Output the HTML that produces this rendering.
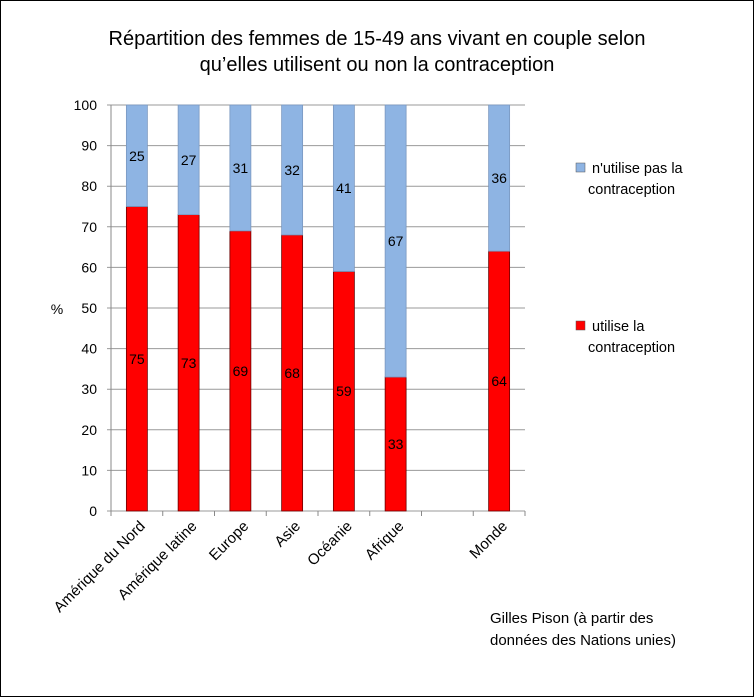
<!DOCTYPE html>
<html><head><meta charset="utf-8"><style>
body{margin:0;background:#fff}
svg{display:block;font-family:"Liberation Sans","DejaVu Sans",sans-serif}
</style></head><body>
<svg id="chart" width="754" height="697" xmlns="http://www.w3.org/2000/svg">
<rect x="0.5" y="0.5" width="753" height="696" fill="#fff" stroke="#000"/>
<text x="377" y="45" font-size="20" text-anchor="middle">Répartition des femmes de 15-49 ans vivant en couple selon</text>
<text x="377" y="71" font-size="20" text-anchor="middle">qu’elles utilisent ou non la contraception</text>
<text x="57" y="314" font-size="14" text-anchor="middle">%</text>
<g id="grid"></g><g id="bars"></g><g id="axes"></g>
<rect x="576" y="163" width="9" height="9" fill="#8eb4e3" stroke="#555" stroke-width="0.5"/>
<text x="592" y="173" font-size="14.5">n'utilise pas la</text>
<text x="588" y="194" font-size="14.5">contraception</text>
<rect x="576" y="321" width="9" height="9" fill="#ff0000" stroke="#555" stroke-width="0.5"/>
<text x="592" y="331" font-size="14.5">utilise la</text>
<text x="588" y="352" font-size="14.5">contraception</text>
<text x="490" y="623" font-size="15">Gilles Pison (à partir des</text>
<text x="490" y="645" font-size="15">données des Nations unies)</text>
</svg>
<script>
const categories=["Amérique du Nord","Amérique latine","Europe","Asie","Océanie","Afrique","","Monde"];
const usingVals=[75,73,69,68,59,33,null,64];
const notUsingVals=[25,27,31,32,41,67,null,36];
const yTicks=[0,10,20,30,40,50,60,70,80,90,100];
const NS="http://www.w3.org/2000/svg";
const X0=111,X1=525,Y0=511,Y1=105;
const slot=(X1-X0)/categories.length;
const y=v=>Y0-(v/100)*(Y0-Y1);
const xc=i=>X0+slot*(i+0.5);
function mk(tag,attrs,parent,txt){const e=document.createElementNS(NS,tag);for(const k in attrs)e.setAttribute(k,attrs[k]);if(txt!=null)e.textContent=txt;parent.appendChild(e);return e;}
const grid=document.getElementById('grid'),bars=document.getElementById('bars'),axes=document.getElementById('axes');
yTicks.forEach(t=>{
 const g=mk('line',{x1:X0-4,x2:X1,y1:y(t),y2:y(t),stroke:'#999','stroke-width':1},grid);
 
 
 const l=mk('text',{x:X0-14,y:y(t)+5,'font-size':14,'text-anchor':'end'},axes,t);
 
 
});
const ya=mk('line',{x1:X0,x2:X0,y1:Y1,y2:Y0,stroke:'#888'},axes);


for(let i=0;i<=categories.length;i++){
 const tk=mk('line',{x1:X0+slot*i,x2:X0+slot*i,y1:Y0,y2:Y0+5,stroke:'#888'},axes);
 
 
}
const bw=21;
categories.forEach((c,i)=>{
 const cx=xc(i);
 if(usingVals[i]!=null){
  const u=usingVals[i],n=notUsingVals[i];
  const rb=mk('rect',{x:cx-bw/2,y:y(u),width:bw,height:Y0-y(u),fill:'#ff0000',stroke:'#6b0000','stroke-width':0.8},bars);
  
  
  const bb=mk('rect',{x:cx-bw/2,y:y(u+n),width:bw,height:y(u)-y(u+n),fill:'#8eb4e3',stroke:'#7a98c0','stroke-width':0.8},bars);
  
  
  const t1=mk('text',{x:cx,y:(y(u)+Y0)/2+5,'font-size':14,'text-anchor':'middle'},bars,u);
  
  
  const t2=mk('text',{x:cx,y:(y(u)+y(u+n))/2+5,'font-size':14,'text-anchor':'middle'},bars,n);
  
  
 }
 if(c){
  const lb=mk('text',{x:0,y:0,'font-size':15,'text-anchor':'end',transform:`translate(${cx+9},${Y0+16}) rotate(-45)`},axes,c);
  
  
 }
});
</script>
</body></html>
